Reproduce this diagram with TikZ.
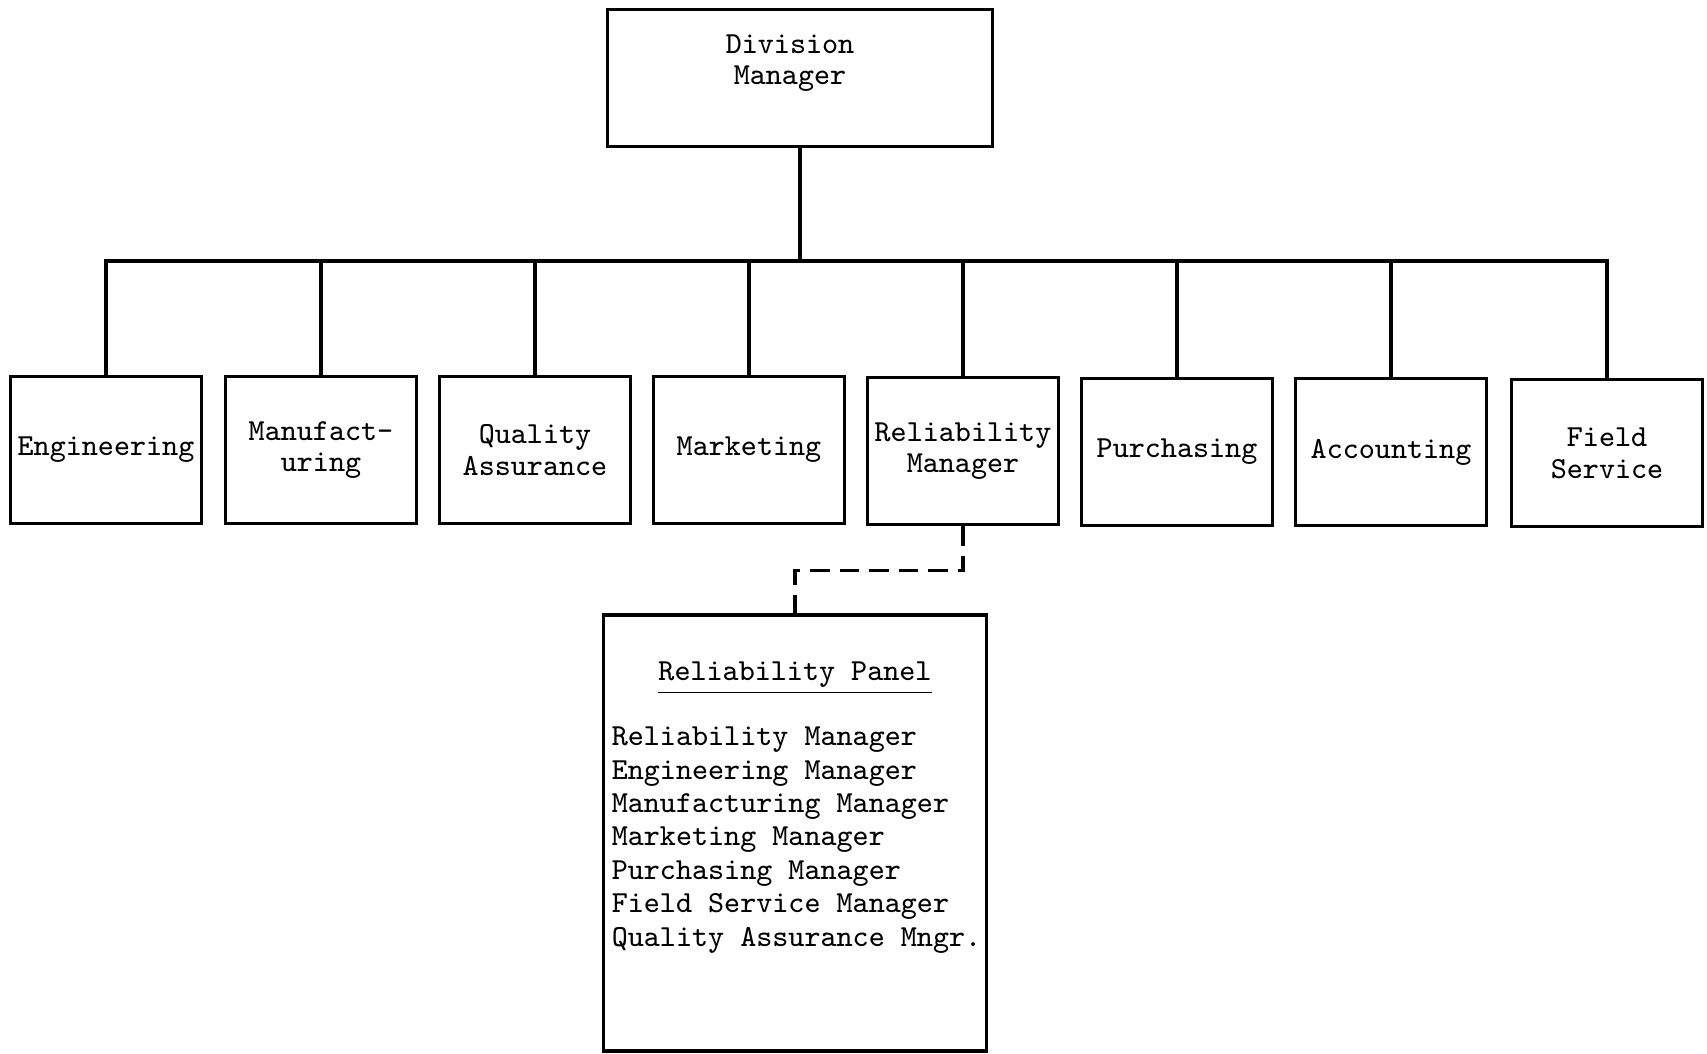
\documentclass[tikz,border=0pt]{standalone}
\usepackage{fontspec}
\begin{document}
\begin{tikzpicture}[x=0.01cm, y=-0.01cm, line width=1pt,
        typed/.style={font=\fontsize{8.7}{9}\selectfont\ttfamily},
        dept/.style={typed, draw, minimum width=1.91cm, minimum height=1.47cm,
            align=center, inner sep=0pt},
        panellink/.style={dash pattern=on 5.6pt off 2.8pt}]
    \useasboundingbox (0,0) rectangle (1707,1053);

    % top
    \node [draw, minimum width=3.85cm, minimum height=1.37cm] at (800,78) (dm) {};
    \node [typed, align=center] at (790,63) (dmtext) {Division\\Manager};

    % departments
    \node [dept] at (106,450) (eng) {Engineering};
    \node [dept] at (321,450) (man) {Manufact-\\uring};
    \node [dept] at (535,450) (qa) {Quality\\Assurance};
    \node [dept] at (749,450) (mkt) {Marketing};
    \node [dept] at (963,451) (rm) {Reliability\\Manager};
    \node [dept] at (1177,452) (pur) {Purchasing};
    \node [dept] at (1391,452) (acc) {Accounting};
    \node [dept] at (1607,453) (fs) {Field\\Service};

    % panel
    \node [draw, minimum width=3.83cm, minimum height=4.36cm] at (795,833) (panel) {};
    \node [typed] at (795,678) (paneltitle) {\underline{Reliability Panel}};
    \node [typed, align=left, anchor=west, inner sep=0pt,
        font=\fontsize{8.7}{9.5}\selectfont\ttfamily] at (610,840) (members)
        {Reliability Manager\\
         Engineering Manager\\
         Manufacturing Manager\\
         Marketing Manager\\
         Purchasing Manager\\
         Field Service Manager\\
         Quality Assurance Mngr.};

    \coordinate (bus) at (800,261);
    \draw (dm.south) -- (bus);
    \draw (eng.north) |- (bus) -| (fs.north);
    \draw (man.north) -- (man.north |- bus);
    \draw (qa.north) -- (qa.north |- bus);
    \draw (mkt.north) -- (mkt.north |- bus);
    \draw (rm.north) -- (rm.north |- bus);
    \draw (pur.north) -- (pur.north |- bus);
    \draw (acc.north) -- (acc.north |- bus);

    \draw [panellink] (rm.south) -- ++(0,44) -| (panel.north);
\end{tikzpicture}
\end{document}
